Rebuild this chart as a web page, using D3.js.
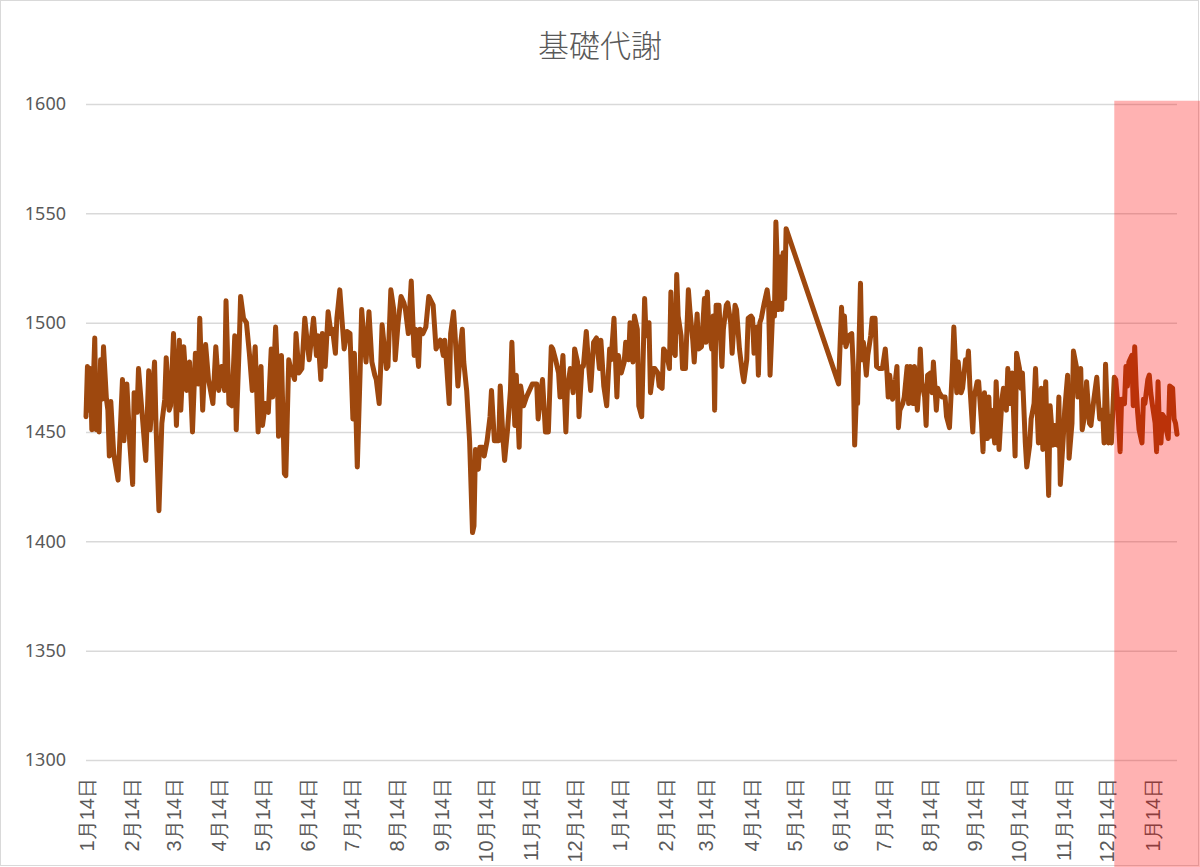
<!DOCTYPE html>
<html>
<head>
<meta charset="utf-8">
<script src="https://cdn.jsdelivr.net/npm/d3@7"></script>
<style>
  body { margin: 0; background: #fff; }
  svg { display: block; font-family: "Noto Sans CJK JP", "Noto Sans", sans-serif; }
</style>
</head>
<body>
<svg id="chart" width="1200" height="867"></svg>
<script>
// 基礎代謝 (basal metabolism) daily readings
const START_DATE = new Date(2020, 0, 14);
const LAST_DAY = 748;          // axis ends ~Jan 31 2022
const HIGHLIGHT_FROM = 705;    // shaded recent period

// days since START_DATE
const dayOffset = [
  0, 1, 2, 3, 4, 6, 7, 8, 9, 10,
  11, 12, 14, 15, 16, 17, 19, 22, 25, 26,
  28, 30, 32, 33, 35, 36, 39, 41, 43, 44,
  47, 48, 50, 52, 54, 55, 57, 58, 60, 62,
  64, 65, 67, 69, 71, 73, 75, 77, 78, 80,
  82, 84, 87, 89, 91, 93, 95, 96, 98, 100,
  102, 103, 105, 106, 108, 110, 112, 114, 116, 118,
  120, 121, 123, 125, 127, 128, 130, 131, 132, 134,
  136, 137, 139, 140, 143, 144, 146, 148, 150, 152,
  153, 156, 158, 159, 161, 162, 164, 166, 168, 169,
  171, 172, 174, 176, 177, 179, 181, 183, 184, 186,
  188, 189, 191, 192, 194, 196, 198, 199, 201, 202,
  203, 206, 207, 209, 211, 212, 214, 216, 218, 219,
  221, 223, 225, 226, 228, 229, 231, 233, 235, 238,
  240,
  243, 245, 246, 247, 249, 250, 252, 253, 255, 257,
  258, 259, 261, 263, 265, 266, 267, 269, 270, 272,
  273, 275, 277, 278, 280, 281, 283, 284, 286, 287,
  289, 291, 292, 294, 295, 297, 298, 300, 302, 304,
  306, 309, 310, 312, 313, 315, 317, 319, 320, 322,
  324, 325, 327, 329, 330, 332, 334, 335, 337, 338,
  340, 341, 343, 345, 346, 348, 350, 352, 353, 355,
  357, 359, 360, 362, 364, 365, 367, 369, 370, 372,
  373, 375, 376, 378, 379,
  381, 383, 384, 386, 387, 389, 390, 392, 393, 395,
  396, 398, 400, 401, 402, 404, 405, 406, 408, 409,
  411, 413, 414, 416, 417, 419, 420, 422, 424, 425,
  426, 427, 429, 430, 431, 432, 434, 436, 437, 439,
  440, 442, 443, 445, 446, 448, 450, 451, 453, 454,
  456, 457, 458, 460, 461, 462, 463, 465, 467, 468,
  469, 471, 472, 473, 475, 476, 477, 478, 479, 480,
  516, 518, 519, 520, 521, 523, 525, 526, 527, 528,
  529, 531, 532, 533, 535, 536, 538, 539, 541, 542,
  544, 546, 548, 549, 550, 551, 553, 555, 556, 557,
  558, 560, 561, 563, 564, 565, 567, 568, 570, 571,
  572, 573, 575, 576, 577, 579, 580, 581, 583, 584,
  585, 587, 589, 590, 592, 594, 595, 597, 598, 600,
  601, 603, 604, 605, 606, 608, 609, 611, 612, 614,
  615, 616, 618, 619, 620, 621, 623, 624, 626,
  628, 629, 631, 632, 634, 635, 637, 638, 640, 641,
  642, 644, 645, 647, 648, 650, 651, 653, 655, 656,
  658, 659, 660, 661, 663, 664, 666, 667, 668, 670,
  671, 673, 674, 676, 677, 679, 680, 682, 683, 685,
  686, 688, 689, 691, 693, 694, 695, 697, 698, 699,
  701, 702, 703, 705, 706, 707, 709, 710, 712, 713,
  714, 715, 717, 718, 719, 720, 721, 722, 724, 725,
  726, 728, 729, 730, 731, 733, 734, 735, 736, 737,
  738, 739, 741, 742, 743, 745, 746, 747, 748
];

const bmr = [
  1457, 1480, 1460, 1479, 1451, 1493, 1451, 1470, 1450, 1483,
  1465, 1489, 1465, 1460, 1439, 1464, 1440, 1428, 1474, 1446,
  1472, 1445, 1426, 1468, 1459, 1479, 1454, 1437, 1478, 1451,
  1482, 1453, 1414, 1454, 1465, 1484, 1460, 1462, 1495, 1453,
  1492, 1460, 1489, 1469, 1482, 1450, 1486, 1472, 1502, 1460,
  1490, 1474, 1463, 1489, 1469, 1480, 1469, 1510, 1463, 1462,
  1494, 1451, 1489, 1512, 1502, 1500, 1486, 1469, 1489, 1450,
  1480, 1453, 1463, 1459, 1488, 1466, 1498, 1482, 1448, 1485,
  1431, 1430, 1483, 1480, 1474, 1495, 1477, 1479, 1502, 1489,
  1483, 1502, 1485, 1494, 1474, 1495, 1480, 1505, 1495, 1497,
  1486, 1502, 1515, 1497, 1488, 1496, 1495, 1456, 1486, 1434,
  1479, 1506, 1489, 1482, 1505, 1482, 1476, 1474, 1463, 1479,
  1499, 1479, 1480, 1515, 1506, 1483, 1500, 1512, 1509, 1506,
  1495, 1519, 1485, 1497, 1480, 1497, 1495, 1498, 1512, 1508,
  1488,
  1492, 1485, 1492, 1483, 1463, 1495, 1505, 1495, 1471, 1491,
  1497, 1482, 1469, 1446, 1404, 1407, 1442, 1433, 1443, 1443,
  1439, 1446, 1457, 1469, 1446, 1446, 1446, 1471, 1446, 1437,
  1451, 1469, 1491, 1453, 1476, 1443, 1471, 1462, 1466, 1469,
  1472, 1472, 1456, 1469, 1474, 1450, 1450, 1489, 1488, 1483,
  1477, 1466, 1485, 1450, 1469, 1479, 1468, 1488, 1482, 1457,
  1480, 1480, 1496, 1477, 1469, 1491, 1493, 1479, 1492, 1471,
  1462, 1488, 1483, 1502, 1466, 1485, 1477, 1482, 1491, 1483,
  1500, 1482, 1503, 1497, 1462,
  1457, 1511, 1494, 1500, 1468, 1479, 1479, 1477, 1471, 1470,
  1488, 1486, 1479, 1514, 1488, 1485, 1522, 1503, 1494, 1479,
  1479, 1515, 1506, 1492, 1482, 1504, 1488, 1489, 1511, 1491,
  1514, 1498, 1488, 1503, 1460, 1508, 1508, 1480, 1497, 1508,
  1509, 1500, 1486, 1508, 1506, 1488, 1477, 1473, 1483, 1502,
  1503, 1502, 1486, 1498, 1476, 1500, 1502, 1509, 1515, 1509,
  1476, 1509, 1503, 1546, 1506, 1530, 1506, 1532, 1511, 1543,
  1472, 1507, 1491, 1503, 1489, 1494, 1495, 1480, 1444, 1463,
  1463, 1518, 1483, 1491, 1476, 1485, 1494, 1502, 1502, 1480,
  1479, 1479, 1488, 1479, 1466, 1476, 1465, 1474, 1480, 1452,
  1460, 1463, 1466, 1480, 1463, 1480, 1463, 1480, 1460, 1470,
  1488, 1473, 1466, 1453, 1476, 1477, 1468, 1482, 1460, 1470,
  1468, 1466, 1466, 1457, 1452, 1479, 1498, 1468, 1482, 1468,
  1470, 1483, 1479, 1487, 1471, 1450, 1466, 1473, 1473, 1454,
  1441, 1468, 1447, 1466, 1448, 1460, 1445, 1473, 1442,
  1465, 1470, 1460, 1479, 1463, 1477, 1439, 1486, 1479, 1470,
  1477, 1445, 1434, 1444, 1456, 1463, 1479, 1445, 1470, 1442,
  1473, 1444, 1421, 1462, 1444, 1453, 1444, 1466, 1426, 1447,
  1460, 1476, 1438, 1454, 1487, 1480, 1466, 1479, 1451, 1459,
  1473, 1454, 1453, 1465, 1475, 1465, 1456, 1460, 1445, 1481,
  1445, 1457, 1445, 1475, 1474, 1466, 1441, 1465, 1463, 1480,
  1471, 1482, 1485, 1462, 1489, 1471, 1459, 1451, 1445, 1465,
  1463, 1474, 1476, 1468, 1463, 1454, 1441, 1473, 1450, 1445,
  1458, 1457, 1450, 1447, 1471, 1470, 1456, 1454, 1449
];

const yTicks = [1300, 1350, 1400, 1450, 1500, 1550, 1600];
const xTickLabels = [
  "1月14日", "2月14日", "3月14日", "4月14日", "5月14日", "6月14日",
  "7月14日", "8月14日", "9月14日", "10月14日", "11月14日", "12月14日",
  "1月14日", "2月14日", "3月14日", "4月14日", "5月14日", "6月14日",
  "7月14日", "8月14日", "9月14日", "10月14日", "11月14日", "12月14日",
  "1月14日"
];

const W = 1200, H = 867;
const plot = { left: 86, right: 1177, top: 104, bottom: 760 };

const svg = d3.select('#chart');

// outer chart border
svg.append('rect')
  .attr('x', 0.5).attr('y', 0.5)
  .attr('width', W - 2).attr('height', H - 2)
  .attr('fill', '#fff')
  .attr('stroke', '#d9d9d9');

const toDate = d => d3.timeDay.offset(START_DATE, d);
const x = d3.scaleTime()
  .domain([START_DATE, toDate(LAST_DAY)])
  .range([plot.left, plot.right]);
const y = d3.scaleLinear()
  .domain([1300, 1600])
  .range([plot.bottom, plot.top]);

// title
svg.append('text')
  .attr('x', 600).attr('y', 57)
  .attr('text-anchor', 'middle')
  .attr('font-size', 31)
  .attr('font-weight', 300)
  .attr('fill', '#595959')
  .text('基礎代謝');

// y axis + gridlines
const yAxis = svg.append('g')
  .attr('transform', `translate(${plot.left},0)`)
  .call(d3.axisLeft(y).tickValues(yTicks).tickFormat(d3.format('d'))
    .tickSize(-(plot.right - plot.left)).tickPadding(20));
yAxis.select('.domain').remove();
yAxis.selectAll('.tick line').attr('stroke', '#d9d9d9').attr('stroke-width', 1.5);
yAxis.selectAll('.tick text')
  .attr('fill', '#595959')
  .attr('font-size', 18)
  .attr('font-family', '"Noto Sans", sans-serif');

// x axis (monthly ticks on the 14th)
const xTickDates = xTickLabels.map((_, i) => d3.timeMonth.offset(START_DATE, i));
const xAxis = svg.append('g')
  .attr('transform', `translate(0,${plot.bottom})`)
  .call(d3.axisBottom(x).tickValues(xTickDates).tickSize(0)
    .tickFormat((d, i) => xTickLabels[i]));
xAxis.select('.domain').remove();
xAxis.selectAll('.tick text')
  .attr('fill', '#595959')
  .attr('font-size', 20)
  .attr('text-anchor', 'end')
  .attr('transform', 'translate(0,18) rotate(-90)')
  .attr('x', 0).attr('y', 0)
  .attr('dy', '0.35em');

// series line
const points = dayOffset.map((d, i) => ({ date: toDate(d), value: bmr[i] }));
const line = d3.line()
  .x(d => x(d.date))
  .y(d => y(d.value));

svg.append('path')
  .datum(points)
  .attr('d', line)
  .attr('fill', 'none')
  .attr('stroke', '#9e480e')
  .attr('stroke-width', 5)
  .attr('stroke-linejoin', 'round')
  .attr('stroke-linecap', 'round');

// red highlight over the latest period
const hx = x(toDate(HIGHLIGHT_FROM));
svg.append('rect')
  .attr('x', hx)
  .attr('y', y(1601.5))
  .attr('width', W - hx)
  .attr('height', H - y(1601.5))
  .attr('fill', '#ff0000')
  .attr('fill-opacity', 0.3);
</script>
</body>
</html>
